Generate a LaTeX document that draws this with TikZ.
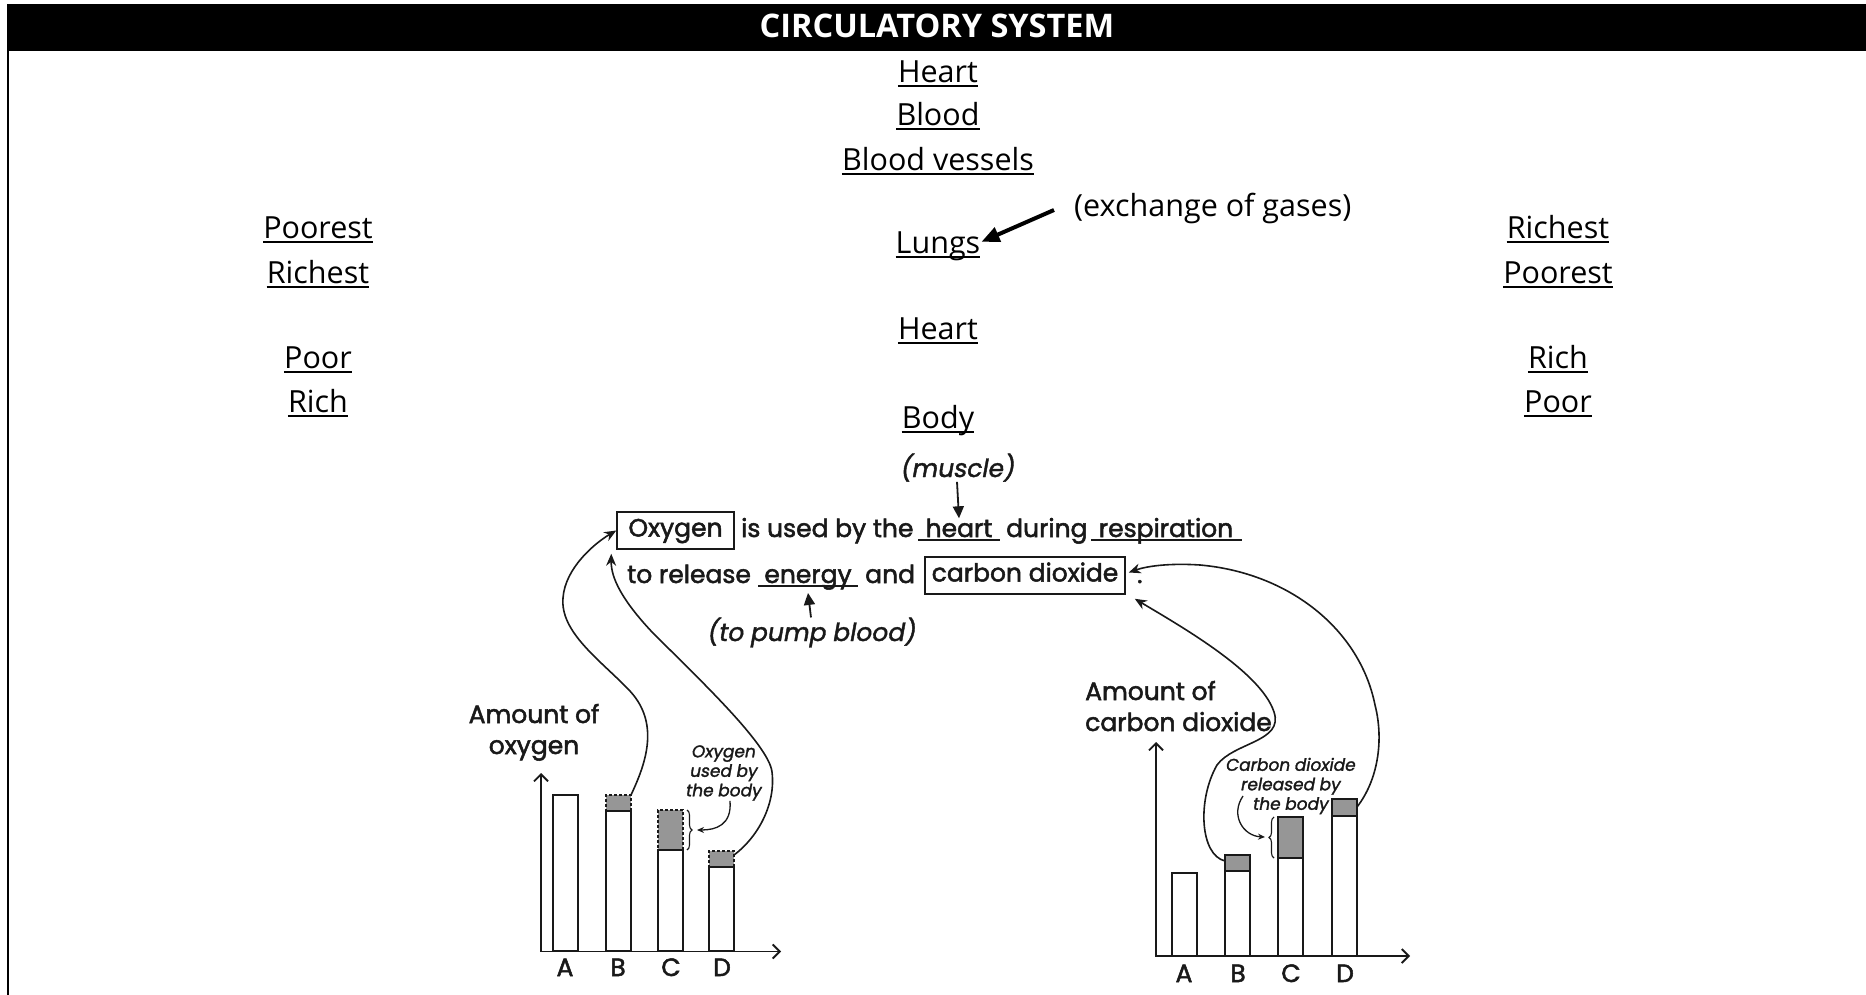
\documentclass[tikz,border=0pt]{standalone}
\usepackage{fontspec}
\setmainfont{Open Sans}
\newfontfamily\popf{Poppins}[FakeBold=2]
\newfontfamily\popi{Poppins}[FakeSlant=0.18,FakeBold=1.6]
\usetikzlibrary{arrows.meta,decorations.pathreplacing}
\definecolor{bargrey}{RGB}{150,150,150}
\definecolor{ink}{RGB}{25,25,25}
\newcommand\mkul[3]{\node[toptxt] (#1) at (#2) {#3};
  \draw[ulline] ([yshift=-3.5pt]#1.base west) -- ([yshift=-3.5pt]#1.base east);}
\newcommand\mkbar[5]{\node[#5, inner sep=0pt, outer sep=0pt, anchor=south west, minimum width=25pt, minimum height={#3-#4}] (#1) at (#2,#3) {};}
\begin{document}
\begin{tikzpicture}[x=1pt,y=-1pt,
  toptxt/.style={font=\fontsize{30.5}{35}\selectfont, inner sep=0pt, anchor=base},
  ulline/.style={line width=1.8pt},
  ttl/.style={font=\bfseries\fontsize{32.5}{36}\selectfont, text=white, inner sep=0pt, anchor=base},
  stxt/.style={font=\popf\fontsize{25}{30}\selectfont, inner sep=0pt, anchor=base west, text=ink},
  itxt/.style={font=\popi\fontsize{25}{30}\selectfont, inner sep=0pt, anchor=base, text=ink},
  ntxt/.style={font=\popi\fontsize{17}{19.5}\selectfont, align=center, inner sep=0pt, text=ink},
  boxn/.style={draw=ink, line width=1.5pt, font=\popf\fontsize{25}{30}\selectfont, text=ink, text height=18pt, text depth=6pt, inner ysep=6.5pt, inner xsep=0pt},
  sul/.style={line width=1.4pt, draw=ink},
  sarr/.style={line width=1.8pt, draw=ink, -{Triangle[length=12pt,width=11pt]}},
  barr/.style={line width=4pt, -{Triangle[length=18pt,width=15pt]}},
  bcurve/.style={line width=1.6pt, draw=ink, -{Stealth[length=12pt,width=10pt]}},
  narr/.style={line width=1.3pt, draw=ink, -{Stealth[length=7pt,width=6pt]}},
  brc/.style={line width=1.1pt, draw=ink, decorate, decoration={brace, amplitude=5pt}},
  wbar/.style={draw=ink, line width=1.8pt, fill=white},
  gbarL/.style={draw=ink, line width=1.5pt, fill=bargrey, dash pattern=on 3pt off 2pt},
  gbarR/.style={draw=ink, line width=1.8pt, fill=bargrey},
  axisl/.style={line width=1.8pt, draw=ink, {Straight Barb[length=7pt,width=14pt]}-{Straight Barb[length=7pt,width=14pt]}}
]
\fill[white] (0,0) rectangle (1866,995);
\useasboundingbox (0,0) rectangle (1866,995);
% title bar and frame
\fill[black] (7,4) rectangle (1866,51);
\draw[line width=2.2pt] (8.2,51) -- (8.2,995);
\node[ttl] (title) at (937,38) {CIRCULATORY SYSTEM};

% central column
\mkul{h1}{938,82.5}{Heart}
\mkul{bl}{938,125.5}{Blood}
\mkul{bv}{938,170.5}{Blood vessels}
\mkul{lungs}{938,253.5}{Lungs}
\mkul{h2}{938,339.5}{Heart}
\mkul{body}{938,428.5}{Body}
\node[toptxt, anchor=base west] (exch) at (1074,217) {(exchange of gases)};
\coordinate (exa) at (1054,210);
\draw[barr] (exa) -- ([xshift=1pt,yshift=4.5pt]lungs.east);

% left column
\mkul{lpo}{318,238.5}{Poorest}
\mkul{lri}{318,283.5}{Richest}
\mkul{lp}{318,368.5}{Poor}
\mkul{lr}{318,412.5}{Rich}
% right column
\mkul{rri}{1558,238.5}{Richest}
\mkul{rpo}{1558,283.5}{Poorest}
\mkul{rr}{1558,368.5}{Rich}
\mkul{rp}{1558,412.5}{Poor}

% sentence
\node[itxt] (mus) at (957,477) {(muscle)};
\node[boxn, minimum width=117pt] (oxy) at (675.5,530.5) {Oxygen};
\node[stxt] (isu) at (741,537) {is used by the};
\node[stxt, anchor=base] (hrt) at (959,537) {heart};
\draw[sul] ([xshift=-41pt,yshift=-3pt]hrt.base) -- ([xshift=41pt,yshift=-3pt]hrt.base);
\node[stxt] (dur) at (1006,537) {during};
\node[stxt, anchor=base] (resp) at (1166,537) {respiration};
\draw[sul] ([xshift=-75pt,yshift=-3pt]resp.base) -- ([xshift=76pt,yshift=-3pt]resp.base);
\node[stxt] (torel) at (627,583) {to release};
\node[stxt, anchor=base] (ene) at (808,583) {energy};
\draw[sul] ([xshift=-50pt,yshift=-3pt]ene.base) -- ([xshift=50pt,yshift=-3pt]ene.base);
\node[stxt] (andw) at (865,583) {and};
\node[boxn, minimum width=200pt] (cbox) at (1025,575.5) {carbon dioxide};
\node[stxt] (dot) at (1137,583) {.};
\node[itxt] (pump) at (811,641) {(to pump blood)};
\draw[sarr] (mus.south) -- (hrt.north);
\draw[sarr] (pump.north) -- ([yshift=-3pt]ene.south);

% left chart
\node[stxt, anchor=base] (amtL) at (534,723) {Amount of};
\node[stxt, anchor=base] (oxL) at (534,754) {oxygen};
\mkbar{aL}{553}{951}{795}{wbar}
\mkbar{bGL}{606}{811}{795}{gbarL}
\mkbar{bL}{606}{951}{811}{wbar}
\mkbar{cGL}{658}{850}{810}{gbarL}
\mkbar{cL}{658}{951}{850}{wbar}
\mkbar{dGL}{709}{867}{851}{gbarL}
\mkbar{dL}{709}{951}{867}{wbar}
\draw[axisl] (541,773) -- (541,951.5) -- (781,951.5);
\node[stxt, anchor=base] (lA) at (565,976) {A};
\node[stxt, anchor=base] (lB) at (618,976) {B};
\node[stxt, anchor=base] (lC) at (671,976) {C};
\node[stxt, anchor=base] (lD) at (722,976) {D};
\node[ntxt] (onote) at (723,773) {Oxygen\\used by\\the body};
\draw[brc] (687,810) -- (687,850);
\coordinate (bLt) at (697,830);
\draw[narr] ([xshift=7pt]onote.south) .. controls (732,825) and (716,830) .. (bLt);

% right chart
\node[stxt] (amtR) at (1085,700) {Amount of};
\node[stxt] (cdR) at (1085,731) {carbon dioxide};
\mkbar{aR}{1172}{956}{873}{wbar}
\mkbar{bGR}{1225}{871}{855}{gbarR}
\mkbar{bR}{1225}{956}{871}{wbar}
\mkbar{cGR}{1278}{858}{817}{gbarR}
\mkbar{cR}{1278}{956}{858}{wbar}
\mkbar{dGR}{1332}{816}{799}{gbarR}
\mkbar{dR}{1332}{956}{816}{wbar}
\draw[axisl] (1156,742) -- (1156,956) -- (1410,956);
\node[stxt, anchor=base] (rA) at (1184,982) {A};
\node[stxt, anchor=base] (rB) at (1238,982) {B};
\node[stxt, anchor=base] (rC) at (1291,982) {C};
\node[stxt, anchor=base] (rD) at (1345,982) {D};
\node[ntxt] (cnote) at (1290,786) {Carbon dioxide\\released by\\the body};
\draw[brc] (1274,858) -- (1274,817);
\coordinate (rnS) at (1243,796);
\coordinate (bRt) at (1265,837);
\draw[narr] (rnS) .. controls (1230,815) and (1243,836) .. (bRt);

% big curved connectors
\draw[bcurve] (bGL.north east) .. controls (645,765) and (662,722) .. (627,688)
   .. controls (600,660) and (560,632) .. (563,598)
   .. controls (565,568) and (595,543) .. (oxy.west);
\draw[bcurve] ([yshift=-4pt]dGL.north east) .. controls (757,838) and (776,805) .. (772,772)
   .. controls (769,745) and (700,680) .. (652,632)
   .. controls (622,600) and (611,578) .. ([xshift=-5pt,yshift=-4pt]oxy.south west);
\draw[bcurve] ([yshift=-6pt]bGR.north west) .. controls (1200,855) and (1197,800) .. (1217,765)
   .. controls (1234,742) and (1284,742) .. (1274,712)
   .. controls (1261,672) and (1182,627) .. ([xshift=9pt,yshift=-4pt]cbox.south east);
\draw[bcurve] ([yshift=-8pt]dGR.north east) .. controls (1378,780) and (1384,740) .. (1375,705)
   .. controls (1360,630) and (1290,573) .. (1200,565)
   .. controls (1170,563) and (1147,566) .. ([xshift=3pt,yshift=3pt]cbox.east);
\end{tikzpicture}
\end{document}
